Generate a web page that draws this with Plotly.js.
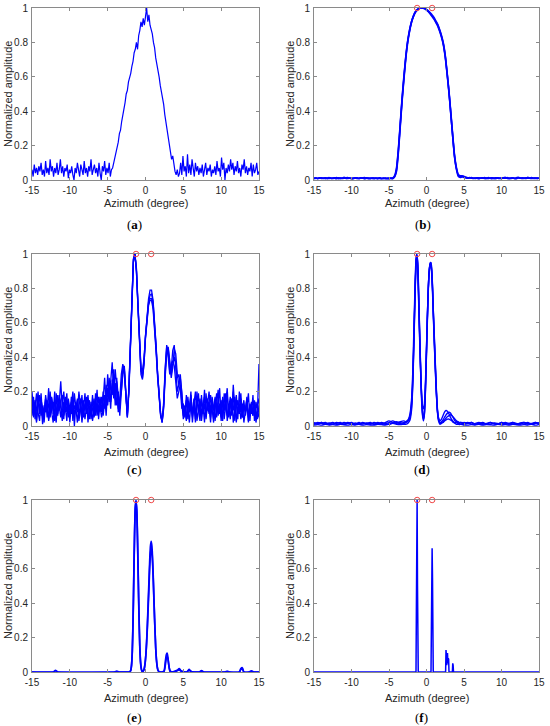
<!DOCTYPE html>
<html><head><meta charset="utf-8">
<script src="https://cdn.plot.ly/plotly-3.0.1.min.js"></script>
<style>html,body{margin:0;padding:0;background:#fff;}#chart{width:550px;height:726px;}</style>
</head><body><div id="chart"></div>
<script>
// ---------- axis labels ----------
const xTickVals = [-15,-10,-5,0,5,10,15];
const xTickText = ['-15','-10','-5','0','5','10','15'];
const yTickVals = [0,0.2,0.4,0.6,0.8,1];
const yTickText = ['0','0.2','0.4','0.6','0.8','1'];
const xTitle = 'Azimuth (degree)';
const yTitle = 'Normalized amplitude';
const captions = ['(<b>a</b>)','(<b>b</b>)','(<b>c</b>)','(<b>d</b>)','(<b>e</b>)','(<b>f</b>)'];

// true target azimuths (red circles)
const targetAz = [-1.25, 0.75];
const targetAmp = [1, 1];

// ---------- (a) ----------
const startA = -15, stepA = 0.15;
const ampA = [
.06,.02,.09,.04,.07,.03,.08,.05,.1,.03,
.06,.02,.11,.04,.07,.03,.12,.05,.08,.02,
.07,.04,.1,.03,.06,.12,.04,.08,.02,.07,
.05,.09,.01,.06,.04,.08,.03,0,.07,.04,
.1,.05,.02,.09,.06,.03,.11,.04,.07,.02,
.08,.05,.12,.03,.06,.09,.04,.07,.02,.1,
.04,0,.08,.05,.11,.03,.07,.04,.1,.02,
.06,
.07,.1,.13,.16,.2,.22,.27,.29,.34,.37,
.42,.45,.5,.52,.57,.59,.62,.66,.69,.74,
.76,.8,.76,.84,.87,.92,.89,.94,.9,.95,
1,.92,.96,.9,.88,.85,.8,.77,.71,.68,
.63,.6,.55,.52,.47,.44,.38,.34,.29,.25,
.2,.16,.12,.14,.08,.05,.03,.06,.02,
.04,.1,.03,.14,.05,.08,.02,.15,.04,.09,
.03,.12,.06,.02,.1,.05,.08,.03,.07,.04,
.09,.02,.06,.1,.03,.07,.05,.09,.02,.06,
.04,.08,.03,.11,.05,.07,.02,.13,.06,.1,
0,.07,.04,.09,.05,.12,.06,.1,.03,.08,
.05,.11,.04,.07,.02,.09,.06,.12,.04,.08,
.03,.07,.05,.1,.02,.09,.04,.06,.1,.03,.05];

// ---------- (b) ----------
const startB = -15, stepB = 0.25;
const ampB1 = [
.01,.012,.008,.01,.013,.009,.011,.008,.012,.01,
.009,.012,.014,.01,.008,.011,.013,.009,.01,.012,
.008,.01,.012,.009,.011,.013,.01,.008,.01,.012,
.009,.011,.008,.01,.012,.009,.007,.01,.008,.009,
.008,.01,
.01,.02,.06,.17,.32,.47,.6,.72,.81,.87,
.92,.95,.975,.99,.997,1,1,.997,.99,.98,
.968,.955,.94,.92,.9,.87,.835,.79,.72,.62,
.51,.38,.25,.13,.06,.02,.015,
.018,.015,.012,.01,.013,.011,.009,.012,.01,.008,
.011,.013,.01,.009,.012,.01,.008,.011,.013,.01,
.009,.012,.01,.014,.011,.009,.01,.012,.008,.01,
.013,.011,.009,.012,.01,.015,.011,.009,.01,.012,
.008,.01];
const ampB2 = [
.012,.01,.009,.013,.01,.012,.008,.011,.014,.009,
.01,.013,.011,.008,.012,.01,.015,.011,.009,.012,
.01,.008,.011,.013,.009,.01,.012,.014,.01,.008,
.011,.009,.012,.01,.008,.011,.009,.012,.01,.008,
.009,.012,
.012,.025,.07,.18,.33,.48,.61,.72,.81,.875,
.92,.955,.978,.99,.998,1,.998,.995,.988,.978,
.965,.95,.935,.915,.895,.865,.83,.785,.715,.615,
.505,.38,.25,.135,.065,.028,.02,
.022,.02,.016,.013,.012,.014,.01,.011,.013,.009,
.012,.01,.014,.011,.009,.012,.013,.01,.008,.011,
.012,.01,.013,.015,.01,.009,.012,.011,.01,.013,
.016,.012,.01,.009,.013,.011,.01,.014,.012,.009,
.011,.01];
const ampB3 = [
.008,.011,.01,.012,.009,.01,.013,.01,.009,.011,
.012,.01,.008,.013,.011,.009,.01,.012,.014,.01,
.009,.011,.013,.01,.008,.012,.011,.009,.013,.01,
.008,.012,.01,.011,.009,.013,.01,.008,.011,.01,
.012,.009,
.008,.018,.05,.16,.31,.46,.59,.71,.8,.865,
.915,.95,.973,.988,.996,1,1,.998,.992,.983,
.972,.96,.945,.925,.905,.875,.84,.795,.725,.625,
.515,.39,.26,.14,.07,.03,.025,
.025,.02,.015,.012,.014,.01,.012,.009,.011,.013,
.01,.012,.009,.011,.014,.01,.012,.008,.011,.013,
.01,.009,.012,.01,.014,.011,.009,.012,.01,.008,
.012,.01,.013,.011,.009,.012,.01,.013,.009,.011,
.012,.01];

// ---------- (c) ----------
const startC = -15, stepC = 0.2;
const ampC1 = [
.2,.08,.15,.03,.12,.18,.06,.1,.02,.14,
.09,.22,.05,.16,.11,.03,.19,.07,.13,.26,
.1,.04,.17,.08,.14,.02,.12,.2,.06,.11,
.15,.03,.09,.18,.05,.13,.08,.16,.04,.1,
.14,.07,.19,.06,.12,.17,.09,
.15,.28,.12,.3,.18,.26,.37,.2,.33,.22,
.08,.15,.3,.36,.33,.18,.05,.22,.52,.82,
.97,1,.92,.72,.5,.33,.28,.36,.52,.65,
.74,.79,.79,.73,.62,.47,.31,.17,.07,.02,
.12,.32,.47,.43,.32,.33,.44,.47,.33,.2,
.24,.3,.18,.06,
.12,.03,.17,.08,.2,.05,.14,.02,.11,.19,
.06,.15,.09,.21,.04,.13,.07,.18,.1,.02,
.16,.08,.12,.22,.05,.14,.09,.19,.03,.11,
.17,.06,.24,.1,.15,.04,.2,.08,.13,.02,
.1,.16,.05,.12,.07,.18,.03,.14,.09,.36];
const ampC2 = [
.12,.17,.04,.1,.2,.07,.13,.01,.09,.16,
.05,.13,.2,.08,.02,.15,.11,.06,.18,.09,
.03,.14,.1,.19,.05,.12,.07,.16,0,.13,
.08,.2,.1,.04,.15,.09,.17,.02,.12,.07,
.18,.05,.11,.21,.04,.14,.08,
.2,.1,.24,.17,.28,.14,.22,.3,.12,.26,
.18,.1,.24,.34,.3,.16,.07,.2,.5,.8,
.96,1,.9,.7,.48,.32,.3,.38,.53,.64,
.72,.76,.77,.72,.61,.46,.3,.16,.06,.03,
.14,.34,.46,.4,.3,.36,.38,.35,.27,.16,
.2,.24,.14,.04,
.08,.15,.04,.11,.18,.06,.13,.2,.03,.1,
.16,.07,.12,.02,.19,.09,.14,.05,.17,.11,
.03,.13,.21,.07,.1,.16,.04,.12,.18,.06,
.14,.09,.2,.03,.11,.15,.07,.19,.05,.12,
.08,.17,.02,.13,.1,.06,.15,.04,.11,.16];
const ampC3 = [
.06,.14,.1,.02,.16,.09,.19,.05,.12,.08,
.15,.03,.1,.17,.07,.2,.04,.13,.09,.15,
.18,.06,.11,.03,.16,.1,.14,.05,.19,.08,
.02,.12,.16,.07,.11,.04,.13,.18,.06,.14,
.03,.1,.15,.08,.17,.11,.05,
.1,.18,.06,.22,.14,.25,.18,.33,.15,.28,
.1,.16,.2,.3,.35,.2,.06,.21,.51,.81,
.97,1,.91,.71,.49,.34,.32,.39,.52,.63,
.71,.74,.74,.7,.59,.45,.3,.16,.07,.03,
.1,.28,.42,.46,.38,.3,.36,.4,.36,.28,
.3,.22,.1,.13,
.05,.18,.1,.02,.13,.07,.16,.04,.2,.09,
.14,.03,.11,.17,.06,.12,.2,.08,.15,.04,
.1,.19,.06,.13,.03,.17,.09,.14,.22,.05,
.11,.16,.02,.12,.18,.07,.13,.04,.1,.15,
.06,.11,.19,.03,.14,.08,.12,.02,.09,.05];
const ampC4 = [
.17,.05,.11,.19,.08,.03,.15,.1,.06,.18,
.12,.04,.16,.09,.14,.07,.02,.18,.11,.05,
.13,.2,.08,.15,.1,.06,.17,.03,.12,.09,
.16,.05,.14,.02,.1,.19,.07,.12,.15,.04,
.11,.16,.06,.13,.08,.1,.17,
.06,.14,.2,.12,.22,.1,.27,.16,.25,.12,
.2,.06,.18,.32,.34,.2,.05,.19,.49,.79,
.95,1,.9,.7,.47,.3,.27,.36,.51,.62,
.7,.73,.73,.68,.57,.43,.28,.15,.06,.02,
.12,.3,.44,.45,.34,.28,.34,.45,.42,.3,
.24,.28,.2,.08,
.1,.04,.14,.08,.16,.02,.12,.06,.15,.1,
.03,.18,.07,.13,.05,.16,.11,.02,.14,.09,
.17,.05,.12,.08,.15,.03,.19,.1,.06,.13,
.04,.14,.09,.17,.02,.11,.07,.16,.05,.12,
.09,.15,.03,.1,.13,.06,.14,.08,.04,.12];

// ---------- (d) ----------
const azD = [
-15,-14.5,-14,-13.5,-13,-12.5,-12,-11.5,-11,-10.5,
-10,-9.5,-9,-8.5,-8,-7.5,-7,-6.5,-6,-5.5,
-5,-4.5,-4,-3.5,-3,
-2.8,-2.6,-2.4,-2.2,-2.0,
-1.9,-1.8,-1.7,-1.6,-1.5,-1.4,-1.3,-1.2,-1.1,-1.0,
-0.9,-0.8,-0.7,-0.6,-0.5,-0.4,-0.3,-0.2,-0.1,0,
0.1,0.2,0.3,0.4,0.5,0.6,0.7,0.8,0.9,1.0,
1.1,1.2,1.3,1.4,1.5,1.6,
1.8,2.0,2.2,2.4,2.6,2.8,3.0,3.2,3.4,3.6,
3.8,4.0,4.2,4.4,4.6,4.8,5.0,
5.5,6,6.5,7,7.5,8,8.5,9,9.5,10,
10.5,11,11.5,12,12.5,13,13.5,14,14.5,15];
const ampD1 = [
.02,.015,.02,.01,.015,.02,.01,.012,.02,.015,
.01,.018,.012,.02,.01,.015,.012,.02,.015,.01,
.012,.018,.025,.02,.015,
.02,.025,.035,.06,.13,
.2,.32,.48,.66,.83,.95,1,.95,.83,.66,
.5,.34,.2,.1,.05,.03,.06,.14,.27,.43,
.6,.75,.86,.92,.95,.95,.91,.82,.68,.57,
.46,.34,.23,.14,.08,.05,
.03,.04,.06,.08,.09,.085,.07,.05,.035,.025,
.02,.02,.015,.02,.02,.015,.01,
.015,.02,.01,.015,.02,.012,.01,.018,.015,.01,
.02,.015,.012,.01,.018,.02,.015,.01,.02,.015];
const ampD2 = [
.01,.02,.015,.02,.01,.012,.02,.015,.01,.02,
.015,.01,.02,.012,.018,.01,.02,.015,.01,.02,
.03,.02,.015,.025,.03,
.025,.03,.04,.07,.15,
.23,.36,.53,.7,.86,.97,1,.94,.81,.64,
.48,.34,.23,.15,.11,.1,.12,.19,.31,.46,
.62,.76,.86,.92,.94,.93,.88,.78,.65,.53,
.41,.3,.2,.12,.07,.04,
.02,.025,.035,.05,.065,.075,.08,.075,.06,.045,
.03,.025,.02,.015,.02,.02,.015,
.02,.01,.015,.02,.01,.015,.02,.012,.01,.02,
.015,.01,.02,.015,.01,.02,.012,.015,.02,.01];
const ampD3 = [
.015,.01,.02,.012,.018,.01,.015,.02,.01,.015,
.02,.012,.01,.018,.015,.02,.01,.012,.02,.015,
.02,.03,.02,.015,.02,
.02,.025,.03,.05,.11,
.18,.3,.46,.64,.81,.94,.99,.96,.85,.68,
.52,.36,.22,.12,.06,.04,.06,.13,.26,.42,
.58,.73,.85,.91,.94,.94,.9,.81,.68,.56,
.44,.33,.22,.13,.07,.04,
.015,.02,.025,.035,.045,.055,.06,.065,.06,.05,
.04,.03,.025,.02,.02,.015,.02,
.015,.02,.01,.018,.015,.01,.02,.015,.012,.02,
.01,.015,.02,.01,.015,.012,.02,.01,.015,.02];
const ampD4 = [
.005,.008,.005,.01,.006,.008,.005,.01,.007,.005,
.008,.006,.01,.005,.008,.006,.005,.01,.008,.006,
.01,.015,.01,.008,.01,
.01,.012,.02,.035,.09,
.16,.28,.44,.62,.8,.93,.99,.97,.87,.7,
.53,.37,.23,.13,.07,.05,.07,.15,.28,.45,
.61,.75,.86,.92,.945,.94,.89,.8,.67,.54,
.42,.31,.21,.12,.06,.03,
.01,.015,.02,.03,.035,.04,.04,.035,.03,.02,
.015,.01,.01,.008,.01,.008,.006,
.005,.008,.006,.01,.005,.008,.007,.005,.01,.006,
.008,.005,.01,.007,.005,.008,.006,.01,.005,.008];

// ---------- (e) ----------
const azE = [
-15,-12.2,-11.9,-11.6,-4.1,-3.8,-3.5,-2.2,-2.05,-1.95,
-1.85,-1.75,-1.65,-1.55,-1.45,-1.35,-1.25,-1.15,-1.05,-0.95,
-0.85,-0.75,-0.65,-0.55,-0.45,-0.35,-0.25,-0.15,-0.05,0.05,
0.15,0.25,0.35,0.45,0.55,0.65,0.75,0.85,0.95,1.05,
1.15,1.25,1.35,1.45,1.55,1.65,1.75,1.95,2.2,2.45,
2.55,2.65,2.75,2.85,2.95,3.05,3.15,3.25,3.45,3.9,
4.2,4.45,4.65,4.9,5.45,5.75,6.05,6.45,7.1,7.4,
7.7,10.5,10.8,11.1,12.4,12.6,12.8,13.0,13.7,14.0,
14.3,15];
const ampE1 = [
0,0,.01,0,0,.005,0,0,.003,.01,
.04,.12,.3,.55,.8,.96,1,.93,.75,.52,
.3,.14,.05,.015,.003,.002,.008,.02,.05,.1,
.18,.28,.4,.52,.64,.73,.76,.73,.64,.52,
.38,.25,.14,.07,.03,.01,.003,0,0,.005,
.03,.07,.1,.11,.09,.05,.02,.005,0,.005,
.01,.02,.01,.003,0,.015,.002,0,0,.008,
0,0,.004,0,0,.02,.025,0,0,.006,
0,0];
const ampE2 = [
0,0,0,0,0,0,0,0,.002,.008,
.035,.11,.28,.53,.78,.95,.99,.94,.77,.54,
.32,.15,.06,.02,.005,.004,.01,.025,.055,.1,
.17,.26,.37,.48,.6,.68,.72,.7,.62,.5,
.37,.25,.14,.07,.03,.01,.003,0,0,.003,
.02,.05,.08,.09,.08,.05,.02,.005,0,.003,
.008,.012,.006,.002,0,.01,.002,0,0,.005,
0,0,.002,0,0,.015,.018,0,0,.004,
0,0];

// ---------- (f) ----------
const azF = [
-15,-1.4,-1.35,-1.3,-1.25,-1.2,-1.15,-1.1,
0.6,0.65,0.7,0.75,0.8,0.85,0.9,
2.55,2.6,2.65,2.7,2.75,2.8,2.85,2.9,2.95,3.0,
3.45,3.5,3.55,3.6,3.65,15];
const ampF = [
0,0,.35,.8,1,.5,.1,0,
0,.15,.5,.72,.55,.2,0,
0,.128,.1,.04,.1,.11,.05,.08,.075,0,
0,.05,.04,0,0,0];

// ---------- build ----------
function grid(start, step, n){const a=[];for(let i=0;i<n;i++)a.push(+(start+i*step).toFixed(4));return a;}
const BLUE = '#0000ff';
const traces = [];
function line(k, x, y, w, shape){
  traces.push({type:'scatter',mode:'lines',x:x,y:y,xaxis:'x'+(k===1?'':k),yaxis:'y'+(k===1?'':k),
    line:{color:BLUE,width:w,shape:shape||'linear',smoothing:0.6},hoverinfo:'skip',showlegend:false});
}
function marks(k){
  traces.push({type:'scatter',mode:'markers',x:targetAz,y:targetAmp,xaxis:'x'+(k===1?'':k),yaxis:'y'+(k===1?'':k),
    cliponaxis:false,marker:{symbol:'circle-open',size:5.5,color:'#f04a4a',line:{width:1,color:'#f04a4a'}},
    hoverinfo:'skip',showlegend:false});
}
line(1, grid(startA,stepA,ampA.length), ampA, 1.2);
[ampB1,ampB2,ampB3].forEach(a=>line(2, grid(startB,stepB,a.length), a, 1.6, 'spline'));
marks(2);
[ampC1,ampC2,ampC3,ampC4].forEach(a=>line(3, grid(startC,stepC,a.length), a, 1.3));
marks(3);
[ampD1,ampD2,ampD3,ampD4].forEach(a=>line(4, azD, a, 1.4, 'spline'));
marks(4);
[ampE1,ampE2].forEach(a=>line(5, azE, a, 1.7, 'spline'));
marks(5);
line(6, azF, ampF, 1.5);
marks(6);

const W=550,H=726;
const colX=[[32,259],[314,539]];
const rowY=[[8,180],[254,426],[500,672]];
const xTitleY=[203.5,451.5,697.5];
const capPos=[[134,225],[423,224],[134,469],[422,469],[134,717],[422,717]];
const FONT='"Liberation Sans", Arial, sans-serif';
const layout={width:W,height:H,margin:{l:0,r:0,t:0,b:0},paper_bgcolor:'#fff',plot_bgcolor:'#fff',
  showlegend:false,font:{family:FONT,color:'#262626'},annotations:[]};
for(let k=1;k<=6;k++){
  const c=(k-1)%2, r=Math.floor((k-1)/2);
  const ax={showline:true,linecolor:'#8a8a8a',linewidth:1,mirror:'ticks',ticks:'inside',ticklen:3,
    tickcolor:'#8a8a8a',tickwidth:1,showgrid:false,zeroline:false,tickfont:{family:FONT,size:10,color:'#262626'},fixedrange:true};
  layout['xaxis'+(k===1?'':k)]=Object.assign({},ax,{domain:[colX[c][0]/W,colX[c][1]/W],range:[-15,15],
    tickmode:'array',tickvals:xTickVals,ticktext:xTickText,anchor:'y'+(k===1?'':k),ticklabelstandoff:1});
  layout['yaxis'+(k===1?'':k)]=Object.assign({},ax,{domain:[1-rowY[r][1]/H,1-rowY[r][0]/H],range:[0,1],
    tickmode:'array',tickvals:yTickVals,ticktext:yTickText,anchor:'x'+(k===1?'':k),ticklabelstandoff:1});
  layout.annotations.push({xref:'paper',yref:'paper',x:(colX[c][0]+colX[c][1])/2/W,y:1-xTitleY[r]/H,
    text:xTitle,showarrow:false,xanchor:'center',yanchor:'middle',font:{family:FONT,size:11,color:'#262626'}});
  layout.annotations.push({xref:'paper',yref:'paper',x:(colX[c][0]-24)/W,y:1-(rowY[r][0]+rowY[r][1])/2/H,
    text:yTitle,textangle:-90,showarrow:false,xanchor:'center',yanchor:'middle',font:{family:FONT,size:11,color:'#262626'}});
  layout.annotations.push({xref:'paper',yref:'paper',x:capPos[k-1][0]/W,y:1-capPos[k-1][1]/H,
    text:captions[k-1],showarrow:false,xanchor:'center',yanchor:'middle',font:{family:'"Liberation Serif", "DejaVu Serif", serif',size:13,color:'#000'}});
}
Plotly.newPlot('chart',traces,layout,{displayModeBar:false,staticPlot:true});
</script></body></html>
